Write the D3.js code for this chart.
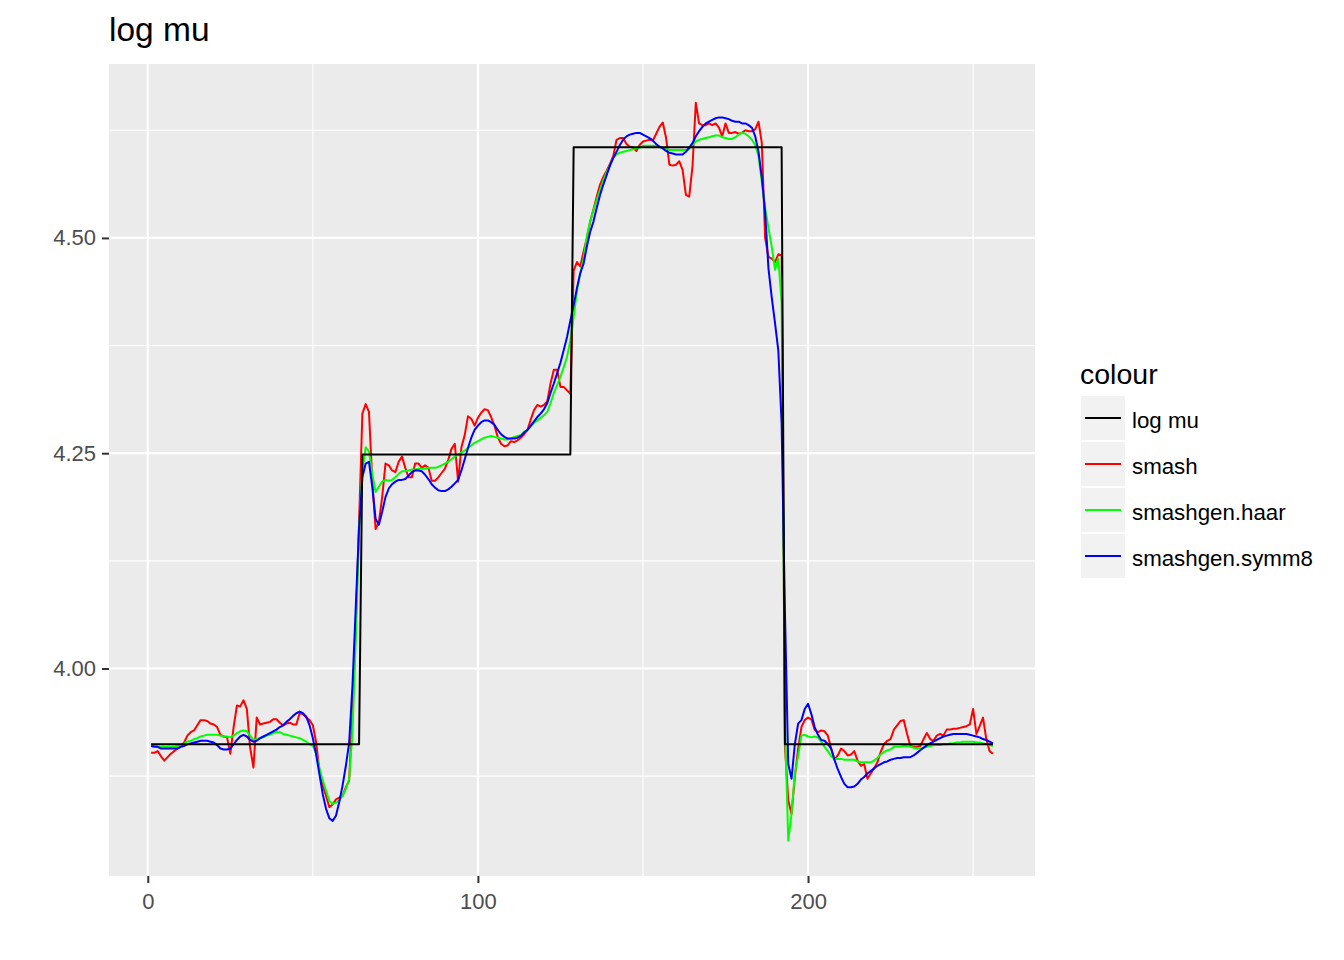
<!DOCTYPE html>
<html>
<head>
<meta charset="utf-8">
<script src="https://cdn.jsdelivr.net/npm/d3@7"></script>
<style>
  html, body { margin: 0; padding: 0; background: #ffffff; }
  svg { display: block; font-family: "Liberation Sans", Arial, sans-serif; }
</style>
</head>
<body>
<svg id="chart" width="1344" height="960"></svg>
<script>
// ---------------- data ----------------
const seriesNames = ["log mu", "smash", "smashgen.haar", "smashgen.symm8"];
const seriesColors = ["#000000", "#FF0000", "#00FF00", "#0000FF"];

// piecewise-constant true log mean: level values and run lengths
const logmuLevels = [3.912, 4.2485, 4.6052, 3.912];
const logmuRuns = [64, 64, 64, 64];

const smash = [
3.902,3.902,3.904,3.898,3.893,3.897,3.901,3.904,3.907,3.910,3.914,3.922,3.926,3.928,3.934,3.940,
3.940,3.939,3.936,3.935,3.932,3.923,3.921,3.920,3.901,3.932,3.957,3.956,3.963,3.953,3.908,3.885,
3.943,3.935,3.936,3.937,3.938,3.941,3.941,3.937,3.934,3.936,3.937,3.935,3.935,3.948,3.947,3.943,
3.940,3.934,3.914,3.881,3.864,3.852,3.839,3.842,3.848,3.850,3.852,3.862,3.870,3.950,4.050,4.170,
4.296,4.307,4.298,4.218,4.162,4.170,4.199,4.238,4.236,4.230,4.228,4.240,4.246,4.233,4.222,4.222,
4.238,4.238,4.233,4.236,4.233,4.218,4.218,4.222,4.227,4.232,4.242,4.255,4.261,4.217,4.257,4.271,
4.293,4.290,4.282,4.291,4.297,4.301,4.300,4.292,4.282,4.269,4.261,4.258,4.259,4.264,4.263,4.265,
4.268,4.272,4.277,4.289,4.300,4.306,4.304,4.306,4.310,4.331,4.347,4.347,4.327,4.327,4.323,4.319,
4.462,4.472,4.467,4.484,4.500,4.519,4.533,4.548,4.562,4.571,4.578,4.586,4.595,4.614,4.616,4.616,
4.609,4.606,4.605,4.601,4.608,4.612,4.613,4.614,4.613,4.621,4.629,4.634,4.616,4.585,4.584,4.585,
4.589,4.579,4.550,4.548,4.583,4.657,4.633,4.631,4.631,4.633,4.631,4.633,4.628,4.618,4.633,4.622,
4.622,4.623,4.621,4.622,4.625,4.624,4.624,4.626,4.635,4.610,4.500,4.478,4.476,4.472,4.481,4.480,
3.910,3.847,3.831,3.874,3.907,3.932,3.940,3.943,3.941,3.929,3.926,3.928,3.927,3.922,3.907,3.894,
3.899,3.907,3.904,3.899,3.900,3.904,3.893,3.887,3.889,3.872,3.878,3.884,3.891,3.903,3.912,3.916,
3.918,3.929,3.934,3.939,3.940,3.924,3.910,3.909,3.909,3.910,3.918,3.925,3.918,3.916,3.922,3.924,
3.922,3.929,3.929,3.930,3.930,3.931,3.932,3.933,3.935,3.953,3.924,3.933,3.943,3.918,3.904,3.901
];

const smashgenHaar = [
3.910,3.910,3.909,3.909,3.909,3.909,3.909,3.909,3.910,3.911,3.913,3.915,3.916,3.918,3.919,3.921,
3.922,3.923,3.923,3.923,3.923,3.922,3.921,3.921,3.920,3.922,3.925,3.927,3.928,3.927,3.922,3.917,
3.918,3.919,3.920,3.922,3.923,3.925,3.926,3.926,3.924,3.923,3.922,3.921,3.920,3.919,3.917,3.915,
3.912,3.910,3.901,3.884,3.870,3.858,3.846,3.843,3.844,3.847,3.852,3.860,3.872,3.925,4.033,4.160,
4.230,4.257,4.252,4.226,4.205,4.211,4.217,4.219,4.218,4.219,4.222,4.226,4.229,4.229,4.230,4.231,
4.231,4.232,4.232,4.232,4.233,4.233,4.233,4.234,4.236,4.238,4.240,4.243,4.246,4.248,4.251,4.253,
4.256,4.259,4.262,4.264,4.266,4.268,4.269,4.270,4.269,4.268,4.267,4.266,4.266,4.267,4.269,4.270,
4.271,4.275,4.277,4.281,4.285,4.288,4.291,4.294,4.298,4.308,4.320,4.329,4.339,4.350,4.362,4.381,
4.408,4.438,4.459,4.476,4.502,4.519,4.532,4.544,4.556,4.567,4.576,4.584,4.593,4.597,4.599,4.600,
4.601,4.602,4.603,4.604,4.605,4.607,4.607,4.607,4.607,4.607,4.606,4.605,4.604,4.602,4.602,4.602,
4.602,4.602,4.602,4.603,4.608,4.612,4.614,4.615,4.616,4.617,4.618,4.619,4.619,4.617,4.616,4.615,
4.615,4.617,4.620,4.622,4.621,4.618,4.614,4.608,4.595,4.565,4.535,4.512,4.490,4.463,4.476,4.425,
3.935,3.800,3.831,3.878,3.898,3.922,3.923,3.921,3.920,3.921,3.920,3.915,3.909,3.904,3.898,3.895,
3.895,3.895,3.894,3.894,3.894,3.894,3.892,3.891,3.891,3.891,3.891,3.893,3.896,3.900,3.903,3.905,
3.906,3.909,3.909,3.909,3.910,3.910,3.909,3.908,3.907,3.907,3.908,3.909,3.910,3.911,3.911,3.911,
3.912,3.912,3.913,3.913,3.914,3.914,3.915,3.915,3.915,3.915,3.914,3.914,3.913,3.912,3.911,3.910
];

const smashgenSymm8 = [
3.910,3.909,3.909,3.907,3.907,3.907,3.907,3.907,3.907,3.909,3.910,3.912,3.913,3.914,3.915,3.916,
3.916,3.916,3.915,3.914,3.911,3.907,3.906,3.906,3.907,3.912,3.917,3.921,3.923,3.921,3.917,3.915,
3.916,3.919,3.921,3.923,3.925,3.927,3.929,3.932,3.934,3.938,3.941,3.945,3.948,3.950,3.948,3.944,
3.934,3.919,3.900,3.877,3.854,3.837,3.826,3.823,3.829,3.845,3.864,3.887,3.914,3.980,4.071,4.164,
4.222,4.238,4.240,4.211,4.174,4.167,4.182,4.199,4.209,4.214,4.217,4.219,4.219,4.220,4.224,4.228,
4.230,4.230,4.229,4.225,4.220,4.214,4.210,4.207,4.206,4.206,4.208,4.211,4.215,4.219,4.230,4.243,
4.256,4.268,4.277,4.282,4.286,4.288,4.288,4.286,4.283,4.277,4.272,4.269,4.267,4.267,4.267,4.268,
4.270,4.274,4.277,4.282,4.287,4.292,4.296,4.301,4.308,4.320,4.331,4.343,4.355,4.370,4.385,4.404,
4.422,4.442,4.459,4.470,4.490,4.507,4.519,4.535,4.550,4.562,4.573,4.584,4.593,4.600,4.608,4.614,
4.618,4.620,4.621,4.622,4.622,4.620,4.618,4.616,4.613,4.609,4.606,4.604,4.601,4.599,4.598,4.597,
4.597,4.597,4.600,4.605,4.610,4.618,4.624,4.629,4.633,4.635,4.637,4.639,4.640,4.640,4.639,4.638,
4.636,4.635,4.635,4.633,4.633,4.631,4.628,4.618,4.600,4.570,4.530,4.465,4.431,4.401,4.369,4.284,
4.067,3.889,3.872,3.912,3.936,3.940,3.953,3.959,3.947,3.932,3.923,3.917,3.916,3.912,3.907,3.894,
3.883,3.874,3.866,3.862,3.862,3.863,3.866,3.871,3.874,3.878,3.881,3.884,3.887,3.889,3.891,3.892,
3.894,3.895,3.896,3.896,3.897,3.897,3.897,3.899,3.902,3.905,3.908,3.911,3.913,3.915,3.917,3.919,
3.921,3.922,3.923,3.924,3.924,3.924,3.924,3.924,3.923,3.922,3.921,3.920,3.918,3.917,3.915,3.913
];

const xTicks = [0, 100, 200];
const xMinor = [50, 150, 250];
const yTicks = [4.00, 4.25, 4.50];
const yMinor = [3.875, 4.125, 4.375, 4.625];
const titleText = "log mu";
const legendTitle = "colour";

// ---------------- build ----------------
const logmu = [];
logmuLevels.forEach((v, k) => { for (let j = 0; j < logmuRuns[k]; j++) logmu.push(v); });

const seriesValues = {
  "log mu": logmu,
  "smash": smash,
  "smashgen.haar": smashgenHaar,
  "smashgen.symm8": smashgenSymm8
};
const colorScale = d3.scaleOrdinal().domain(seriesNames).range(seriesColors);

const panel = { left: 109, right: 1035, top: 64, bottom: 876 };
const n = smash.length;

const x = d3.scaleLinear()
  .domain([1 - 0.05 * (n - 1), n + 0.05 * (n - 1)])
  .range([panel.left, panel.right]);
const y = d3.scaleLinear()
  .domain([3.759, 4.702])
  .range([panel.bottom, panel.top]);

const svg = d3.select("#chart");

// panel background
svg.append("rect")
  .attr("x", panel.left).attr("y", panel.top)
  .attr("width", panel.right - panel.left).attr("height", panel.bottom - panel.top)
  .attr("fill", "#EBEBEB");

const grid = svg.append("g");
// minor grid
grid.selectAll(".ymin").data(yMinor).join("line")
  .attr("x1", panel.left).attr("x2", panel.right)
  .attr("y1", d => y(d)).attr("y2", d => y(d))
  .attr("stroke", "#FFFFFF").attr("stroke-width", 1.1);
grid.selectAll(".xmin").data(xMinor).join("line")
  .attr("y1", panel.top).attr("y2", panel.bottom)
  .attr("x1", d => x(d)).attr("x2", d => x(d))
  .attr("stroke", "#FFFFFF").attr("stroke-width", 1.1);
// major grid
grid.selectAll(".ymaj").data(yTicks).join("line")
  .attr("x1", panel.left).attr("x2", panel.right)
  .attr("y1", d => y(d)).attr("y2", d => y(d))
  .attr("stroke", "#FFFFFF").attr("stroke-width", 2.2);
grid.selectAll(".xmaj").data(xTicks).join("line")
  .attr("y1", panel.top).attr("y2", panel.bottom)
  .attr("x1", d => x(d)).attr("x2", d => x(d))
  .attr("stroke", "#FFFFFF").attr("stroke-width", 2.2);

// lines (coloured fits first, true log mu on top)
const line = d3.line().x((d, i) => x(i + 1)).y(d => y(d));
const drawOrder = ["smash", "smashgen.haar", "smashgen.symm8", "log mu"];
svg.append("g").selectAll("path").data(drawOrder).join("path")
  .attr("d", name => line(seriesValues[name]))
  .attr("fill", "none")
  .attr("stroke", name => colorScale(name))
  .attr("stroke-width", 2)
  .attr("stroke-linejoin", "round");

// axes
const xAxis = d3.axisBottom(x).tickValues(xTicks).tickFormat(d3.format("d"))
  .tickSize(7).tickSizeOuter(0).tickPadding(10);
const gx = svg.append("g").attr("transform", `translate(0,${panel.bottom})`).call(xAxis);
gx.select(".domain").remove();
gx.selectAll(".tick line").attr("stroke", "#333333").attr("stroke-width", 2);
gx.selectAll(".tick text").attr("fill", "#4D4D4D").style("font-size", "22px")
  .style("font-family", "'Liberation Sans', Arial, sans-serif");

const yAxis = d3.axisLeft(y).tickValues(yTicks).tickFormat(d3.format(".2f"))
  .tickSize(7).tickSizeOuter(0).tickPadding(6);
const gy = svg.append("g").attr("transform", `translate(${panel.left},0)`).call(yAxis);
gy.select(".domain").remove();
gy.selectAll(".tick line").attr("stroke", "#333333").attr("stroke-width", 2);
gy.selectAll(".tick text").attr("fill", "#4D4D4D").style("font-size", "22px")
  .style("font-family", "'Liberation Sans', Arial, sans-serif");

// title
svg.append("text")
  .attr("x", panel.left).attr("y", 41)
  .attr("fill", "#000000")
  .style("font-size", "33.5px")
  .text(titleText);

// legend
const lg = svg.append("g");
lg.append("text").attr("x", 1080).attr("y", 384)
  .attr("fill", "#000000").style("font-size", "28.5px").text(legendTitle);
const items = lg.selectAll(".item").data(seriesNames).join("g")
  .attr("transform", (d, i) => `translate(1081,${396 + i * 46})`);
items.append("rect").attr("width", 44).attr("height", 44).attr("fill", "#F2F2F2");
items.append("line").attr("x1", 4).attr("x2", 40).attr("y1", 22).attr("y2", 22)
  .attr("stroke", d => colorScale(d)).attr("stroke-width", 2);
items.append("text").attr("x", 51).attr("y", 24).attr("dy", "0.35em")
  .attr("fill", "#000000").style("font-size", "22.3px").text(d => d);
</script>
</body>
</html>
